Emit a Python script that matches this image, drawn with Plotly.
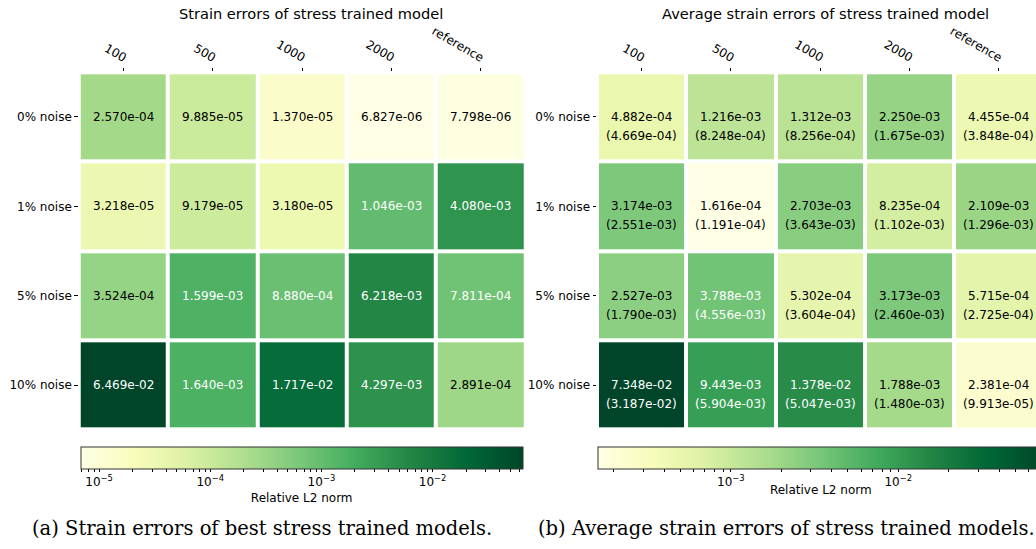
import numpy as np
import plotly.graph_objects as go
from plotly.colors import sequential

# ---- data -------------------------------------------------------------
sample_sizes = ["100", "500", "1000", "2000", "reference"]
noise_levels = ["0% noise", "1% noise", "5% noise", "10% noise"]

# best strain errors of the stress trained models
best_err = [
    [2.570e-04, 9.885e-05, 1.370e-05, 6.827e-06, 7.798e-06],
    [3.218e-05, 9.179e-05, 3.180e-05, 1.046e-03, 4.080e-03],
    [3.524e-04, 1.599e-03, 8.880e-04, 6.218e-03, 7.811e-04],
    [6.469e-02, 1.640e-03, 1.717e-02, 4.297e-03, 2.891e-04],
]
# average strain errors and their standard deviations
avg_err = [
    [4.882e-04, 1.216e-03, 1.312e-03, 2.250e-03, 4.455e-04],
    [3.174e-03, 1.616e-04, 2.703e-03, 8.235e-04, 2.109e-03],
    [2.527e-03, 3.788e-03, 5.302e-04, 3.173e-03, 5.715e-04],
    [7.348e-02, 9.443e-03, 1.378e-02, 1.788e-03, 2.381e-04],
]
avg_std = [
    [4.669e-04, 8.248e-04, 8.256e-04, 1.675e-03, 3.848e-04],
    [2.551e-03, 1.191e-04, 3.643e-03, 1.102e-03, 1.296e-03],
    [1.790e-03, 4.556e-03, 3.604e-04, 2.460e-03, 2.725e-04],
    [3.187e-02, 5.904e-03, 5.047e-03, 1.480e-03, 9.913e-05],
]

# ---- layout helpers ---------------------------------------------------
W, H = 1036, 549
def px(x):
    return x / W
def py(y):
    return 1 - y / H

SANS = "DejaVu Sans"
SERIF = "DejaVu Serif"
YLGN = [[i / (len(sequential.YlGn) - 1), c] for i, c in enumerate(sequential.YlGn)]

CELL = 89.33
GRID_TOP, GRID_BOT = 72.3, 429.7


def log_ticks(lo, hi):
    vals, text = [], []
    for d in range(int(np.floor(lo)) - 1, int(np.ceil(hi)) + 1):
        for m in range(1, 10):
            v = d + np.log10(m)
            if lo - 1e-9 <= v <= hi + 1e-9:
                vals.append(v)
                text.append(f"10<sup>\u2212{-d}</sup>" if m == 1 else "")
    return vals, text


fig = go.Figure()
annotations = []


def add_panel(idx, values, x0, cb_x0, cb_x1, title, title_x, std=None):
    arr = np.array(values, dtype=float)
    z = np.log10(arr)
    zmin, zmax = z.min(), z.max()
    xa = "x" if idx == 1 else f"x{idx}"
    ya = "y" if idx == 1 else f"y{idx}"
    tv, tt = log_ticks(zmin, zmax)
    fig.add_trace(go.Heatmap(
        z=z, x=sample_sizes, y=noise_levels, xaxis=xa, yaxis=ya,
        colorscale=YLGN, zmin=zmin, zmax=zmax, xgap=4, ygap=4,
        hoverinfo="skip",
        colorbar=dict(
            orientation="h", x=px(cb_x0), xanchor="left",
            y=py(446.7), yanchor="top", len=(cb_x1 - cb_x0) / W,
            lenmode="fraction", thickness=21.6, xpad=0, ypad=0,
            outlinewidth=1, outlinecolor="#333333",
            tickvals=tv, ticktext=tt, ticks="outside", ticklen=3,
            tickcolor="black", tickfont=dict(family=SANS, size=12, color="black"),
            title=dict(text="Relative L2 norm", side="bottom",
                       font=dict(family=SANS, size=12, color="black")),
        ),
    ))
    axis_common = dict(type="category", showgrid=False, zeroline=False,
                       showline=False, ticks="outside", ticklen=3.5,
                       tickcolor="black", fixedrange=True,
                       tickfont=dict(family=SANS, size=12, color="black"))
    ncols = min(len(sample_sizes), (W - x0) / CELL)
    fig.layout[f"xaxis{'' if idx == 1 else idx}"] = dict(
        domain=[px(x0), px(x0 + ncols * CELL)],
        range=[-0.5, -0.5 + ncols], ticklabelshift=3,
        side="top", tickangle=30, anchor=ya, **axis_common)
    fig.layout[f"yaxis{'' if idx == 1 else idx}"] = dict(
        domain=[py(GRID_BOT), py(GRID_TOP)], range=[3.5, -0.5],
        anchor=xa, **axis_common)

    norm = (z - zmin) / (zmax - zmin)
    for r in range(len(noise_levels)):
        for c in range(len(sample_sizes)):
            col = "white" if norm[r, c] > 0.5 else "black"
            annotations.append(dict(
                x=c, y=r, xref=xa, yref=ya, text=f"{arr[r, c]:.3e}",
                showarrow=False, xanchor="center", yanchor="middle",
                font=dict(family=SANS, size=12, color=col)))
            if std is not None:
                annotations.append(dict(
                    x=c, y=r, xref=xa, yref=ya, yshift=-19,
                    text=f"({std[r][c]:.3e})", showarrow=False,
                    xanchor="center", yanchor="middle",
                    font=dict(family=SANS, size=12, color=col)))
    annotations.append(dict(
        x=px(title_x), y=py(13.5), xref="paper", yref="paper", text=title,
        showarrow=False, xanchor="center", yanchor="middle",
        font=dict(family=SANS, size=14.6, color="black")))


add_panel(1, best_err, 78.7, 80.7, 522.7,
          "Strain errors of stress trained model", 311)
add_panel(2, avg_err, 597.0, 598.3, 1043.7,
          "Average strain errors of stress trained model", 825, std=avg_std)

# sub-figure captions
for cx, cap in [(262, "(a) Strain errors of best stress trained models."),
                (786, "(b) Average strain errors of stress trained models.")]:
    annotations.append(dict(
        x=px(cx), y=py(528), xref="paper", yref="paper", text=cap,
        showarrow=False, xanchor="center", yanchor="middle",
        font=dict(family=SERIF, size=19.5, color="black")))

fig.update_layout(
    width=W, height=H, margin=dict(l=0, r=0, t=0, b=0),
    paper_bgcolor="white", plot_bgcolor="white",
    annotations=annotations, showlegend=False,
)
fig.write_html("out.html")
